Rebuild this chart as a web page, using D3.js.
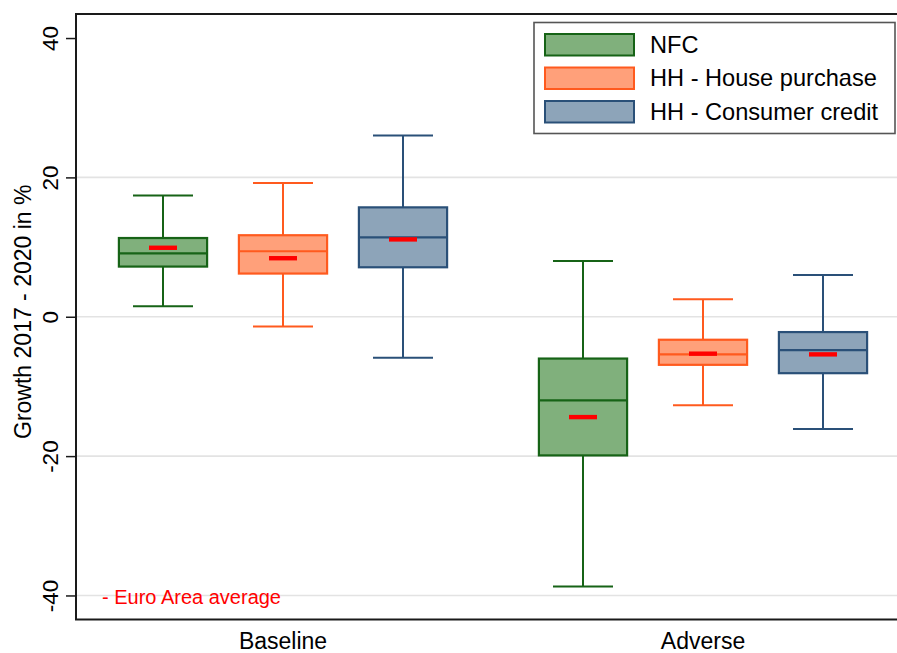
<!DOCTYPE html>
<html>
<head>
<meta charset="utf-8">
<script src="https://cdn.jsdelivr.net/npm/d3@7"></script>
<style>
  html, body { margin: 0; padding: 0; background: #fff; }
  svg { display: block; font-family: "Liberation Sans", Arial, sans-serif; }
</style>
</head>
<body>
<svg id="chart" width="897" height="653"></svg>
<script>
// ---- Data ----
const scenarios = ["Baseline", "Adverse"];
const series = ["NFC", "HH - House purchase", "HH - Consumer credit"];
// [lower whisker, q1, median, q3, upper whisker, euro-area average]
const nfcValues      = [[1.5, 7.2, 9.1, 11.3, 17.4, 9.9],   [-38.7, -19.9, -12.0, -6.0, 8.0, -14.4]];
const housingValues  = [[-1.4, 6.2, 9.4, 11.7, 19.2, 8.4],  [-12.7, -6.9, -5.4, -3.3, 2.5, -5.3]];
const consumerValues = [[-5.9, 7.1, 11.4, 15.7, 26.0, 11.1], [-16.1, -8.1, -4.8, -2.2, 6.0, -5.4]];
const yTicks = [40, 20, 0, -20, -40];
const yTickLabels = ["40", "20", "0", "-20", "-40"];
const gridValues = [20, 0, -20, -40];
const yTitle = "Growth 2017 - 2020 in %";
const noteText = "- Euro Area average";

const fills   = ["#80b07c", "#ffa07a", "#8da4b9"];
const strokes = ["#166316", "#ff5a1e", "#2a5078"];

const valuesBySeries = [nfcValues, housingValues, consumerValues];
const rows = [];
series.forEach((s, si) => {
  scenarios.forEach((sc, gi) => {
    const v = valuesBySeries[si][gi];
    rows.push({series: s, si, scenario: sc, lo: v[0], q1: v[1], med: v[2], q3: v[3], hi: v[4], mean: v[5]});
  });
});

// ---- Layout ----
const svg = d3.select("#chart");
const pLeft = 76, pTop = 14, pBottom = 619.5, pRight = 905;

const y = d3.scaleLinear().domain([-43.45, 43.45]).range([pBottom, pTop]);
const xGroup = d3.scaleBand().domain(scenarios).range([73, 913]).padding(0);
const xSeries = d3.scaleBand().domain(series).range([-180, 180]).padding(0);
const boxW = xSeries.bandwidth() * 0.735;
const capW = xSeries.bandwidth() * 0.5;
const meanW = 28;
const cx = d => xGroup(d.scenario) + xGroup.bandwidth() / 2 + xSeries(d.series) + xSeries.bandwidth() / 2;

// gridlines
svg.append("g").selectAll("line").data(gridValues).join("line")
  .attr("x1", pLeft).attr("x2", pRight)
  .attr("y1", d => y(d)).attr("y2", d => y(d))
  .attr("stroke", "#e3e3e3").attr("stroke-width", 1.6);

// boxes
const g = svg.append("g");
const bx = g.selectAll("g.box").data(rows).join("g").attr("class", "box");
// whiskers
bx.append("line")
  .attr("x1", cx).attr("x2", cx)
  .attr("y1", d => y(d.hi)).attr("y2", d => y(d.q3))
  .attr("stroke", d => strokes[d.si]).attr("stroke-width", 2);
bx.append("line")
  .attr("x1", cx).attr("x2", cx)
  .attr("y1", d => y(d.q1)).attr("y2", d => y(d.lo))
  .attr("stroke", d => strokes[d.si]).attr("stroke-width", 2);
// caps
["hi", "lo"].forEach(k => {
  bx.append("line")
    .attr("x1", d => cx(d) - capW / 2).attr("x2", d => cx(d) + capW / 2)
    .attr("y1", d => y(d[k])).attr("y2", d => y(d[k]))
    .attr("stroke", d => strokes[d.si]).attr("stroke-width", 2);
});
// box
bx.append("rect")
  .attr("x", d => cx(d) - boxW / 2).attr("width", boxW)
  .attr("y", d => y(d.q3)).attr("height", d => y(d.q1) - y(d.q3))
  .attr("fill", d => fills[d.si]).attr("stroke", d => strokes[d.si]).attr("stroke-width", 2.2);
// median
bx.append("line")
  .attr("x1", d => cx(d) - boxW / 2).attr("x2", d => cx(d) + boxW / 2)
  .attr("y1", d => y(d.med)).attr("y2", d => y(d.med))
  .attr("stroke", d => strokes[d.si]).attr("stroke-width", 2.2);
// mean marker
bx.append("rect")
  .attr("x", d => cx(d) - meanW / 2).attr("width", meanW)
  .attr("y", d => y(d.mean) - 2.2).attr("height", 4.4)
  .attr("fill", "#ff0000");

// frame
svg.append("path")
  .attr("d", `M${pRight},${pTop}H${pLeft}V${pBottom}H${pRight}`)
  .attr("fill", "none").attr("stroke", "#1a1a1a").attr("stroke-width", 2);

// y axis
const yAxis = d3.axisLeft(y).tickValues(yTicks).tickSize(10).tickSizeOuter(0)
  .tickFormat((d, i) => yTickLabels[i]);
const ya = svg.append("g").attr("transform", `translate(${pLeft},0)`).call(yAxis);
ya.select(".domain").remove();
ya.selectAll(".tick line").attr("stroke", "#1a1a1a").attr("stroke-width", 1.5);
ya.selectAll(".tick text")
  .attr("x", 0).attr("dy", 0)
  .attr("transform", "translate(-18,0) rotate(-90)")
  .attr("text-anchor", "middle")
  .attr("font-size", 22.5).attr("fill", "#000")
  .attr("font-family", "Liberation Sans, Arial, sans-serif");

// y title
svg.append("text")
  .attr("transform", `translate(31,${(pTop + pBottom) / 2 - 5}) rotate(-90)`)
  .attr("text-anchor", "middle").attr("font-size", 23).attr("fill", "#000")
  .text(yTitle);

// x labels
svg.append("g").selectAll("text").data(scenarios).join("text")
  .attr("x", d => xGroup(d) + xGroup.bandwidth() / 2).attr("y", 649)
  .attr("text-anchor", "middle").attr("font-size", 23).attr("fill", "#000")
  .text(d => d);

// note
svg.append("text").attr("x", 102).attr("y", 603.5)
  .attr("font-size", 20).attr("fill", "#ff0000").text(noteText);

// legend
const lg = svg.append("g");
lg.append("rect").attr("x", 534).attr("y", 22.5).attr("width", 361).attr("height", 111)
  .attr("fill", "#fff").attr("stroke", "#555").attr("stroke-width", 1.6);
const li = lg.selectAll("g.item").data(series).join("g").attr("class", "item")
  .attr("transform", (d, i) => `translate(0,${i * 33.5})`);
li.append("rect").attr("x", 545).attr("y", 34).attr("width", 89).attr("height", 21.5)
  .attr("fill", (d, i) => fills[i]).attr("stroke", (d, i) => strokes[i]).attr("stroke-width", 2);
li.append("text").attr("x", 650).attr("y", 52.5).attr("font-size", 23.6).attr("fill", "#000")
  .text(d => d);
</script>
</body>
</html>
